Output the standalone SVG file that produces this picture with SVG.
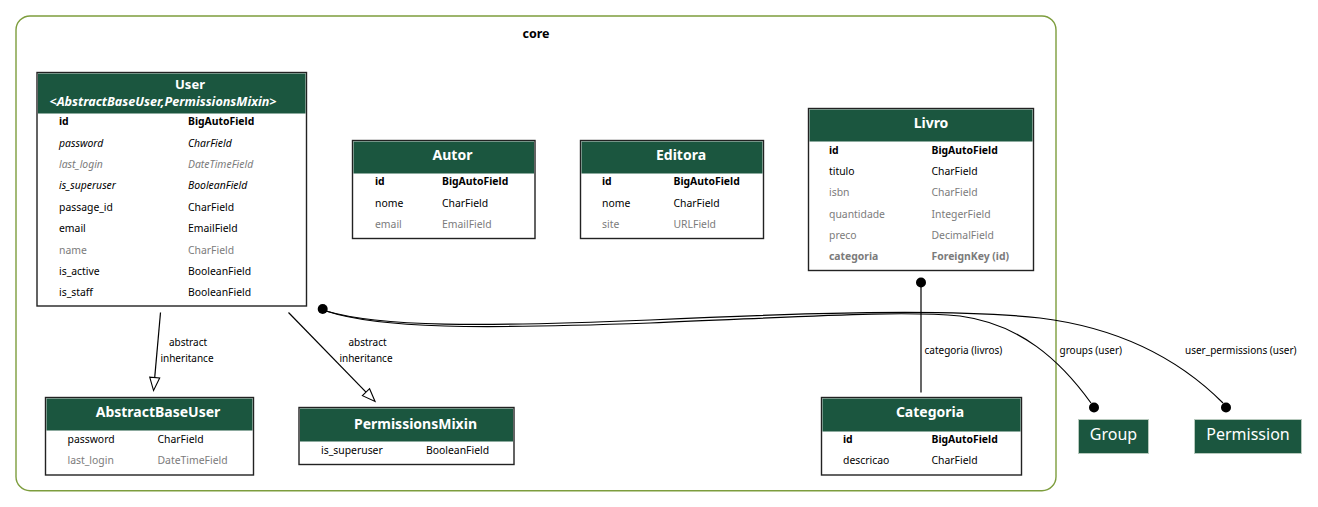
<svg xmlns="http://www.w3.org/2000/svg" width="1318" height="507" viewBox="0 0 1318 507">
<style>
text{font-family:"Noto Sans","Open Sans","DejaVu Sans",sans-serif;}
.f{font-size:10.4px;fill:#000;}
.b{font-weight:bold;}
.i{font-style:italic;}
.g{fill:#7b7b7b;}
.h{font-size:14px;font-weight:bold;fill:#fff;text-anchor:middle;}
.box{fill:#fff;stroke:#222;stroke-width:1.4;}
.hd{fill:#1b563f;}
.lbl{font-size:10px;fill:#000;}
.edge{fill:none;stroke:#000;stroke-width:1.2;}
.ext{fill:#1b563f;stroke:#b7c9bd;stroke-width:1;}
.extt{font-size:16px;fill:#fff;text-anchor:middle;}
</style>
<defs>
<marker id="inh" markerUnits="userSpaceOnUse" markerWidth="16" markerHeight="14" refX="1" refY="6" orient="auto">
<path d="M1,1 L14,6 L1,11 Z" fill="#fff" stroke="#000" stroke-width="1.1"/>
</marker>
</defs>
<rect width="1318" height="507" fill="#fff"/>
<g id="cluster_core">
<rect x="16" y="16" width="1040" height="474.7" rx="14" ry="14" fill="none" stroke="#7d9d3d" stroke-width="1.4"/>
<text x="536" y="37.5" style="font-size:12.5px;font-weight:bold;text-anchor:middle">core</text>
</g>
<g id="connectors">
<path class="edge" d="M160.5,312.5 L154.7,377.6" marker-end="url(#inh)"/>
<text class="lbl" x="188" y="346" text-anchor="middle">abstract</text>
<text class="lbl" x="187" y="362" text-anchor="middle">inheritance</text>
<path class="edge" d="M288.5,312.5 L366,392.2" marker-end="url(#inh)"/>
<text class="lbl" x="367.5" y="346" text-anchor="middle">abstract</text>
<text class="lbl" x="366" y="362" text-anchor="middle">inheritance</text>
<circle cx="921" cy="282.5" r="5"/>
<path class="edge" d="M921,286 L921,392.5"/>
<text class="lbl" x="924.5" y="354">categoria (livros)</text>
<circle cx="322.7" cy="309" r="5"/>
<path class="edge" d="M326,311 C380,329 480,329 650,323 C800,317 900,310 960,316 C1020,324 1060,360 1091,403"/>
<path class="edge" d="M326,311 C380,327 480,327 650,320 C800,313 950,308 1040,318 C1120,328 1180,360 1223,403"/>
<circle cx="1094" cy="407.5" r="5"/>
<circle cx="1226" cy="407.5" r="5"/>
<text class="lbl" x="1059.5" y="354">groups (user)</text>
<text class="lbl" x="1185" y="354">user_permissions (user)</text>
</g>
<g id="User">
<rect class="box" x="37" y="72.5" width="269.5" height="233.5"/>
<rect class="hd" x="38" y="73.5" width="267.5" height="40"/>
<text class="h" x="190" y="88.8" style="font-size:13px">User</text>
<text x="163" y="106.4" style="font-size:12.6px;font-weight:bold;font-style:italic;fill:#fff;text-anchor:middle">&lt;AbstractBaseUser,PermissionsMixin&gt;</text>
<text class="f b" x="59" y="125.1">id</text><text class="f b" x="188" y="125.1">BigAutoField</text>
<text class="f i" x="59" y="146.5">password</text><text class="f i" x="188" y="146.5">CharField</text>
<text class="f i g" x="59" y="167.9">last_login</text><text class="f i g" x="188" y="167.9">DateTimeField</text>
<text class="f i" x="59" y="189.3">is_superuser</text><text class="f i" x="188" y="189.3">BooleanField</text>
<text class="f" x="59" y="210.7">passage_id</text><text class="f" x="188" y="210.7">CharField</text>
<text class="f" x="59" y="232.1">email</text><text class="f" x="188" y="232.1">EmailField</text>
<text class="f g" x="59" y="253.5">name</text><text class="f g" x="188" y="253.5">CharField</text>
<text class="f" x="59" y="274.9">is_active</text><text class="f" x="188" y="274.9">BooleanField</text>
<text class="f" x="59" y="296.3">is_staff</text><text class="f" x="188" y="296.3">BooleanField</text>
</g>
<g id="Autor">
<rect class="box" x="352.5" y="140.5" width="182.5" height="98"/>
<rect class="hd" x="353.5" y="141.5" width="180.5" height="32"/>
<text class="h" x="452.5" y="160">Autor</text>
<text class="f b" x="375" y="185.3">id</text><text class="f b" x="442" y="185.3">BigAutoField</text>
<text class="f" x="375" y="206.6">nome</text><text class="f" x="442" y="206.6">CharField</text>
<text class="f g" x="375" y="227.9">email</text><text class="f g" x="442" y="227.9">EmailField</text>
</g>
<g id="Editora">
<rect class="box" x="580.5" y="140.5" width="183" height="98"/>
<rect class="hd" x="581.5" y="141.5" width="181" height="32"/>
<text class="h" x="681" y="160">Editora</text>
<text class="f b" x="602" y="185.3">id</text><text class="f b" x="673.5" y="185.3">BigAutoField</text>
<text class="f" x="602" y="206.6">nome</text><text class="f" x="673.5" y="206.6">CharField</text>
<text class="f g" x="602" y="227.9">site</text><text class="f g" x="673.5" y="227.9">URLField</text>
</g>
<g id="Livro">
<rect class="box" x="808.5" y="108.5" width="225" height="162"/>
<rect class="hd" x="809.5" y="109.5" width="223" height="32"/>
<text class="h" x="931" y="128">Livro</text>
<text class="f b" x="829" y="153.6">id</text><text class="f b" x="931.5" y="153.6">BigAutoField</text>
<text class="f" x="829" y="174.9">titulo</text><text class="f" x="931.5" y="174.9">CharField</text>
<text class="f g" x="829" y="196.2">isbn</text><text class="f g" x="931.5" y="196.2">CharField</text>
<text class="f g" x="829" y="217.5">quantidade</text><text class="f g" x="931.5" y="217.5">IntegerField</text>
<text class="f g" x="829" y="238.8">preco</text><text class="f g" x="931.5" y="238.8">DecimalField</text>
<text class="f b g" x="829" y="260.1">categoria</text><text class="f b g" x="931.5" y="260.1">ForeignKey (id)</text>
</g>
<g id="AbstractBaseUser">
<rect class="box" x="45.5" y="397.5" width="208" height="77.5"/>
<rect class="hd" x="46.5" y="398.5" width="206" height="32"/>
<text class="h" x="158" y="417">AbstractBaseUser</text>
<text class="f" x="67.5" y="442.6">password</text><text class="f" x="157.5" y="442.6">CharField</text>
<text class="f g" x="67.5" y="463.9">last_login</text><text class="f g" x="157.5" y="463.9">DateTimeField</text>
</g>
<g id="PermissionsMixin">
<rect class="box" x="299" y="407.5" width="215" height="57"/>
<rect class="hd" x="300" y="408.5" width="213" height="33"/>
<text class="h" x="415.5" y="428.5">PermissionsMixin</text>
<text class="f" x="321" y="453.6">is_superuser</text><text class="f" x="426" y="453.6">BooleanField</text>
</g>
<g id="Categoria">
<rect class="box" x="821.5" y="397.5" width="200" height="77.5"/>
<rect class="hd" x="822.5" y="398.5" width="198" height="33"/>
<text class="h" x="930" y="417">Categoria</text>
<text class="f b" x="843" y="442.6">id</text><text class="f b" x="931.5" y="442.6">BigAutoField</text>
<text class="f" x="843" y="464">descricao</text><text class="f" x="931.5" y="464">CharField</text>
</g>
<g id="Group">
<rect class="ext" x="1078.5" y="419.5" width="70" height="34"/>
<text class="extt" x="1113.5" y="439.5">Group</text>
</g>
<g id="Permission">
<rect class="ext" x="1194.5" y="419.5" width="107" height="34"/>
<text class="extt" x="1248" y="439.5">Permission</text>
</g>
</svg>
